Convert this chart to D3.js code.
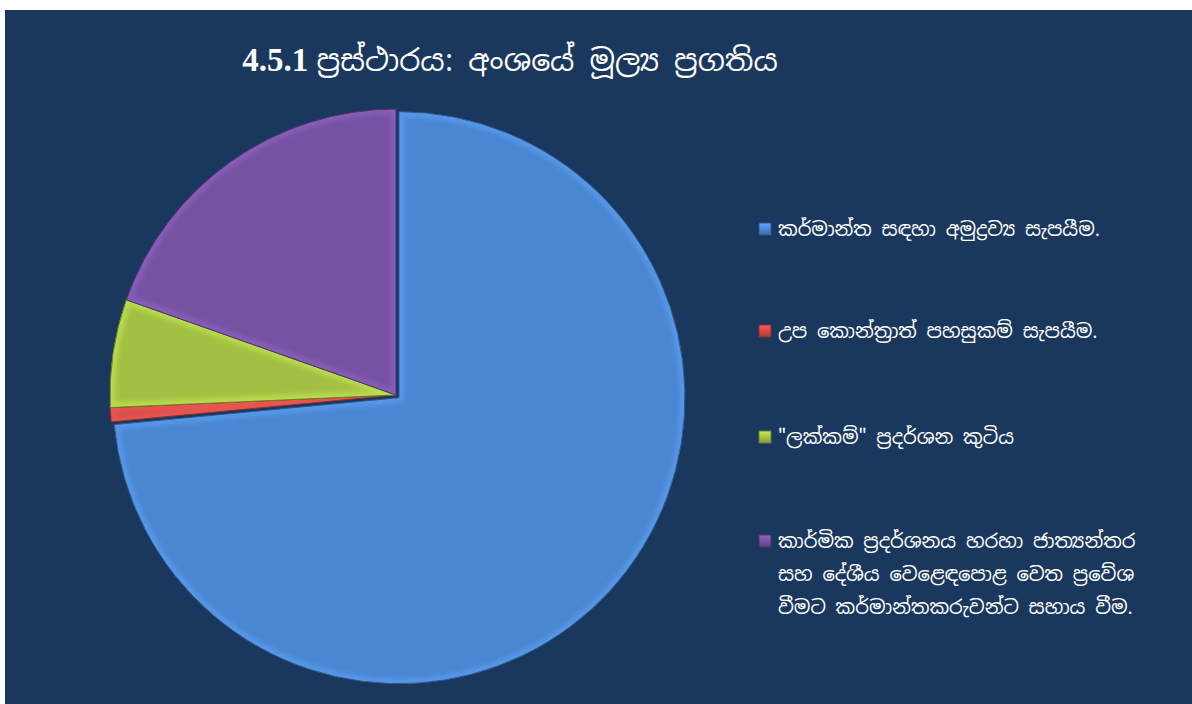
<!DOCTYPE html>
<html>
<head>
<meta charset="utf-8">
<script src="https://cdn.jsdelivr.net/npm/d3@7"></script>
<style>
  body { margin: 0; background: #fff; }
  svg text { font-family: "Noto Sans Sinhala", "Noto Serif Sinhala", "Noto Sans", sans-serif; }
</style>
</head>
<body>
<div id="chart"></div>
<script>
const titleNumber = "4.5.1";
const titleText = "ප්‍රස්ථාරය: අංශයේ මූල්‍ය ප්‍රගතිය";
const categories = [
  "කර්මාන්ත සඳහා අමුද්‍රව්‍ය සැපයීම.",
  "උප කොන්ත්‍රාත් පහසුකම් සැපයීම.",
  "\"ලක්කම්\" ප්‍රදර්ශන කුටිය",
  "කාර්මික ප්‍රදර්ශනය හරහා ජාත්‍යන්තර|සහ දේශීය වෙළෙඳපොළ වෙත ප්‍රවේශ|වීමට කර්මාන්තකරුවන්ට සහාය වීම."
];
const values = [73.5, 0.8, 6.1, 19.6];
const colors = ["#4a86d2", "#cf4a46", "#a2c043", "#7652a2"];

function drawChart() {
  const width = 1192, height = 704;
  const svg = d3.select("#chart").append("svg")
      .attr("width", width).attr("height", height);

  svg.append("rect")
      .attr("x", 5).attr("y", 10)
      .attr("width", width - 5).attr("height", height - 10)
      .attr("fill", "#1a375e");

  const defs = svg.append("defs");
  defs.append("filter").attr("id", "blur")
    .append("feGaussianBlur").attr("stdDeviation", 2.5);

  // gradients for the little legend squares
  colors.forEach((c, i) => {
    const lg = defs.append("linearGradient").attr("id", "lg" + i)
        .attr("x1", 0).attr("y1", 0).attr("x2", 0).attr("y2", 1);
    lg.append("stop").attr("offset", 0).attr("stop-color", d3.color(c).brighter(0.6));
    lg.append("stop").attr("offset", 1).attr("stop-color", d3.color(c).darker(0.6));
  });

  const cx = 396, cy = 395, r = 286;
  const pie = d3.pie().sort(null).value(d => d);
  const arcs = pie(values);
  const arc = d3.arc().innerRadius(0).outerRadius(r);

  const g = svg.append("g").attr("transform", `translate(${cx},${cy})`);

  const slice = g.selectAll("g.slice")
    .data(arcs)
    .join("g")
      .attr("class", "slice")
      .attr("transform", (d, i) => {
        if (i !== 0) return null;
        const [x, y] = arc.centroid(d);
        const k = 4 / Math.hypot(x, y);
        return `translate(${x * k},${y * k})`;
      });

  slice.each(function(d, i) {
    const s = d3.select(this);
    const base = d3.color(colors[i]);
    s.append("clipPath").attr("id", "clip" + i)
      .append("path").attr("d", arc(d));
    s.append("path")
      .attr("d", arc(d))
      .attr("fill", base);
    // soft bevel on the edges
    s.append("path")
      .attr("d", arc(d))
      .attr("fill", "none")
      .attr("stroke", base.brighter(0.7))
      .attr("stroke-width", 10)
      .attr("stroke-opacity", 0.5)
      .attr("filter", "url(#blur)")
      .attr("clip-path", `url(#clip${i})`);
    s.append("path")
      .attr("d", arc(d))
      .attr("fill", "none")
      .attr("stroke", base.darker(1.2))
      .attr("stroke-width", 1);
  });

  const t = svg.append("text")
      .attr("x", 510).attr("y", 71)
      .attr("text-anchor", "middle")
      .attr("fill", "#fff")
      .style("font-size", "30px");
  t.append("tspan")
      .style("font-family", "'Liberation Serif', 'DejaVu Serif', serif")
      .style("font-weight", "bold")
      .style("font-size", "33px")
      .text(titleNumber + " ");
  t.append("tspan")
      .text(titleText);

  const legendY = [229, 331, 437, 541];
  const legend = svg.append("g").selectAll("g")
    .data(categories)
    .join("g")
      .attr("transform", (d, i) => `translate(759,${legendY[i]})`);

  legend.append("rect")
      .attr("x", 0).attr("y", -6)
      .attr("width", 12).attr("height", 12)
      .attr("fill", (d, i) => `url(#lg${i})`)
      .attr("stroke", (d, i) => d3.color(colors[i]).darker(1.2))
      .attr("stroke-width", 1);

  legend.append("text")
      .attr("x", 19)
      .attr("fill", "#fff")
      .style("font-size", "19.5px")
    .selectAll("tspan")
    .data(d => d.split("|"))
    .join("tspan")
      .attr("x", 19)
      .attr("y", (d, j) => j * 33 + 7)
      .text(d => d);
}

drawChart();
</script>
</body>
</html>
